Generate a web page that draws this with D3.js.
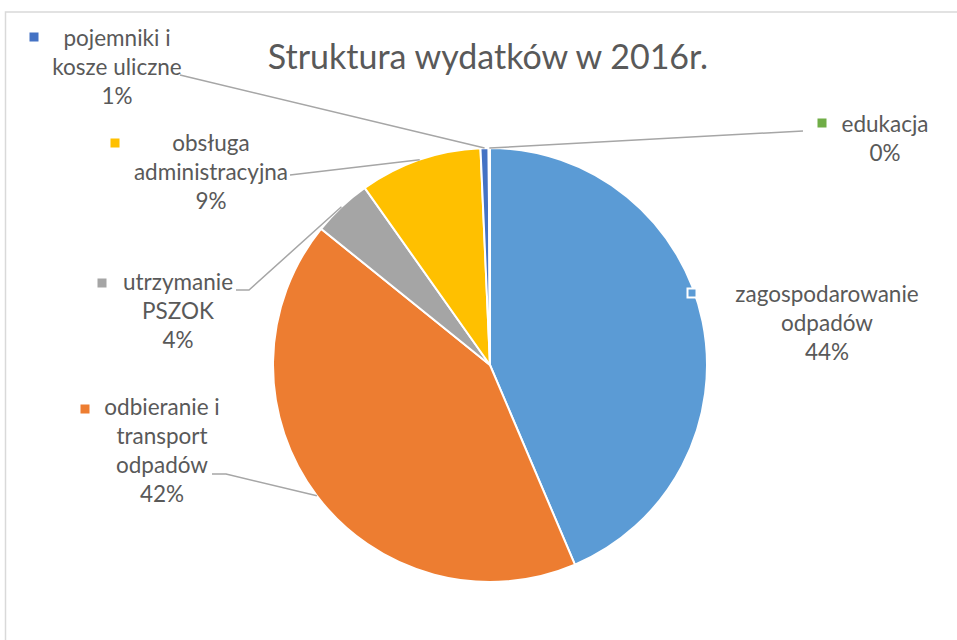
<!DOCTYPE html>
<html lang="pl">
<head>
    <meta charset="UTF-8">
    <title>Struktura wydatków w 2016r.</title>
    <script src="https://d3js.org/d3.v7.min.js"></script>
    <style>
        body { margin: 0; background: #fff; }
        svg { display: block; }
    </style>
</head>
<body>
    <div id="chart"></div>
    <script>
        // Data
        const title = "Struktura wydatków w 2016r.";
        const categories = [
            "zagospodarowanie odpadów",
            "odbieranie i transport odpadów",
            "utrzymanie PSZOK",
            "obsługa administracyjna",
            "pojemniki i kosze uliczne",
            "edukacja"
        ];
        // how each category label is broken into lines
        const labelLines = [
            ["zagospodarowanie", "odpadów"],
            ["odbieranie i", "transport", "odpadów"],
            ["utrzymanie", "PSZOK"],
            ["obsługa", "administracyjna"],
            ["pojemniki i", "kosze uliczne"],
            ["edukacja"]
        ];
        const values = [43.6, 42.2, 4.4, 9.1, 0.6, 0.1];
        const colors = ["#5b9bd5", "#ed7d31", "#a5a5a5", "#ffc000", "#4472c4", "#70ad47"];

        // Layout of the labels (centre x, first baseline, legend key, leader line start)
        const labelLayout = [
            { cx: 827, y: 302, key: [692, 293], leader: null },
            { cx: 162, y: 415, key: [85, 409], leader: [[212, 474], [226, 474]] },
            { cx: 178, y: 290, key: [102, 283], leader: [[236, 290], [249, 290]] },
            { cx: 211, y: 151, key: [115, 143], leader: [[290, 175]] },
            { cx: 117, y: 46, key: [34, 37], leader: [[180, 75]] },
            { cx: 885, y: 132, key: [822, 123], leader: [[803, 131]] }
        ];

        const width = 957, height = 640;
        const cx = 490, cy = 365, radius = 217;
        const lineH = 29;
        const textColor = "#595959";
        const font = "Lato, 'Open Sans', sans-serif";

        const svg = d3.select("#chart")
            .append("svg")
            .attr("width", width)
            .attr("height", height);

        // chart area border
        svg.append("rect")
            .attr("x", 5.5)
            .attr("y", 12)
            .attr("width", 1000)
            .attr("height", 700)
            .attr("fill", "#fff")
            .attr("stroke", "#d9d9d9")
            .attr("stroke-width", 1.5);

        // Title
        svg.append("text")
            .attr("x", 488)
            .attr("y", 69)
            .attr("text-anchor", "middle")
            .attr("font-family", font)
            .attr("font-size", 34)
            .attr("fill", textColor)
            .text(title);

        const total = d3.sum(values);
        const pie = d3.pie().sort(null).value(d => d);
        const arcs = pie(values);

        const arc = d3.arc().innerRadius(0).outerRadius(radius);

        const g = svg.append("g")
            .attr("transform", `translate(${cx},${cy})`);

        g.selectAll("path.slice")
            .data(arcs)
            .join("path")
            .attr("class", "slice")
            .attr("d", arc)
            .attr("fill", (d, i) => colors[i])
            .attr("stroke", "#fff")
            .attr("stroke-width", 2);

        // Leader lines: from label to the outer edge at the slice's middle angle
        arcs.forEach((a, i) => {
            const lay = labelLayout[i];
            if (!lay.leader) return;
            const mid = (a.startAngle + a.endAngle) / 2;
            const px = cx + radius * Math.sin(mid);
            const py = cy - radius * Math.cos(mid);
            const pts = lay.leader.concat([[px, py]]);
            svg.append("path")
                .attr("d", d3.line()(pts))
                .attr("fill", "none")
                .attr("stroke", "#a6a6a6")
                .attr("stroke-width", 1.5);
        });

        // Labels
        arcs.forEach((a, i) => {
            const lay = labelLayout[i];
            const lines = labelLines[i].concat([Math.round(values[i] / total * 100) + "%"]);
            const t = svg.append("text")
                .attr("text-anchor", "middle")
                .attr("font-family", font)
                .attr("font-size", 22.5)
                .attr("fill", textColor);
            lines.forEach((s, k) => {
                t.append("tspan")
                    .attr("x", lay.cx)
                    .attr("y", lay.y + k * lineH)
                    .text(s);
            });
            svg.append("rect")
                .attr("x", lay.key[0] - 4.5)
                .attr("y", lay.key[1] - 4.5)
                .attr("width", 9)
                .attr("height", 9)
                .attr("fill", colors[i])
                .attr("stroke", i === 0 ? "#fff" : "none")
                .attr("stroke-width", 2);
        });
    </script>
</body>
</html>
